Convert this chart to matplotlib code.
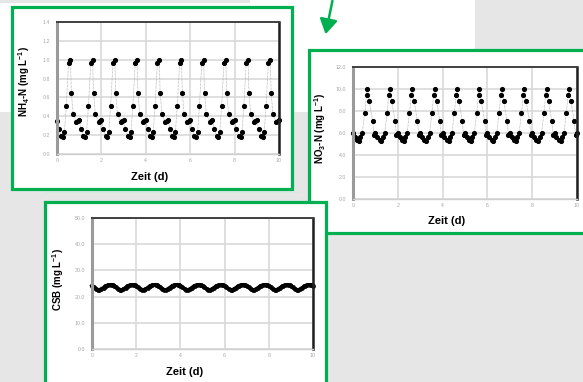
import matplotlib.pyplot as plt
from matplotlib.patches import Rectangle, FancyArrowPatch
from matplotlib.lines import Line2D

plt.rcParams["font.family"] = ["Liberation Sans", "DejaVu Sans"]
plt.rcParams["mathtext.default"] = "regular"

W, H = 583, 382

# sampling times within each day (h)
hours = [0, 2, 4.5, 6.5, 8, 10, 12.5, 14.5, 15.5, 17.5, 21, 22.5]
n_days = 10

# NH4-N per day (mg/L)
nh4 = [
    [0.35, 0.27, 0.19, 0.18, 0.23, 0.51, 0.96, 1.00, 0.65, 0.42, 0.34, 0.35],
    [0.36, 0.27, 0.19, 0.18, 0.23, 0.51, 0.96, 1.00, 0.65, 0.42, 0.34, 0.35],
    [0.36, 0.27, 0.19, 0.18, 0.23, 0.51, 0.96, 1.00, 0.65, 0.42, 0.34, 0.35],
    [0.36, 0.27, 0.19, 0.18, 0.23, 0.51, 0.96, 1.00, 0.65, 0.42, 0.34, 0.35],
    [0.36, 0.27, 0.19, 0.18, 0.23, 0.51, 0.96, 1.00, 0.65, 0.42, 0.34, 0.35],
    [0.36, 0.27, 0.19, 0.18, 0.23, 0.51, 0.96, 1.00, 0.65, 0.42, 0.34, 0.35],
    [0.36, 0.27, 0.19, 0.18, 0.23, 0.51, 0.96, 1.00, 0.65, 0.42, 0.34, 0.35],
    [0.36, 0.27, 0.19, 0.18, 0.23, 0.51, 0.96, 1.00, 0.65, 0.42, 0.34, 0.35],
    [0.36, 0.27, 0.19, 0.18, 0.23, 0.51, 0.96, 1.00, 0.65, 0.42, 0.34, 0.35],
    [0.36, 0.27, 0.19, 0.18, 0.23, 0.51, 0.96, 1.00, 0.65, 0.42, 0.34, 0.35],
]
nh4_end = 0.36

# NO3-N per day (mg/L)
no3 = [
    [6.0, 5.6, 5.4, 5.3, 5.6, 6.0, 7.8, 9.5, 10.0, 8.9, 7.1, 5.8],
    [6.0, 5.6, 5.4, 5.3, 5.6, 6.0, 7.8, 9.5, 10.0, 8.9, 7.1, 5.8],
    [6.0, 5.6, 5.4, 5.3, 5.6, 6.0, 7.8, 9.5, 10.0, 8.9, 7.1, 5.8],
    [6.0, 5.6, 5.4, 5.3, 5.6, 6.0, 7.8, 9.5, 10.0, 8.9, 7.1, 5.8],
    [6.0, 5.6, 5.4, 5.3, 5.6, 6.0, 7.8, 9.5, 10.0, 8.9, 7.1, 5.8],
    [6.0, 5.6, 5.4, 5.3, 5.6, 6.0, 7.8, 9.5, 10.0, 8.9, 7.1, 5.8],
    [6.0, 5.6, 5.4, 5.3, 5.6, 6.0, 7.8, 9.5, 10.0, 8.9, 7.1, 5.8],
    [6.0, 5.6, 5.4, 5.3, 5.6, 6.0, 7.8, 9.5, 10.0, 8.9, 7.1, 5.8],
    [6.0, 5.6, 5.4, 5.3, 5.6, 6.0, 7.8, 9.5, 10.0, 8.9, 7.1, 5.8],
    [6.0, 5.6, 5.4, 5.3, 5.6, 6.0, 7.8, 9.5, 10.0, 8.9, 7.1, 5.8],
]
no3_end = 6.0

# CSB per day (mg/L)
csb = [
    [24.2, 23.6, 22.9, 22.6, 22.5, 22.8, 23.4, 23.9, 24.1, 24.4, 24.5, 24.4],
    [24.2, 23.6, 22.9, 22.6, 22.5, 22.8, 23.4, 23.9, 24.1, 24.4, 24.5, 24.4],
    [24.2, 23.6, 22.9, 22.6, 22.5, 22.8, 23.4, 23.9, 24.1, 24.4, 24.5, 24.4],
    [24.2, 23.6, 22.9, 22.6, 22.5, 22.8, 23.4, 23.9, 24.1, 24.4, 24.5, 24.4],
    [24.2, 23.6, 22.9, 22.6, 22.5, 22.8, 23.4, 23.9, 24.1, 24.4, 24.5, 24.4],
    [24.2, 23.6, 22.9, 22.6, 22.5, 22.8, 23.4, 23.9, 24.1, 24.4, 24.5, 24.4],
    [24.2, 23.6, 22.9, 22.6, 22.5, 22.8, 23.4, 23.9, 24.1, 24.4, 24.5, 24.4],
    [24.2, 23.6, 22.9, 22.6, 22.5, 22.8, 23.4, 23.9, 24.1, 24.4, 24.5, 24.4],
    [24.2, 23.6, 22.9, 22.6, 22.5, 22.8, 23.4, 23.9, 24.1, 24.4, 24.5, 24.4],
    [24.2, 23.6, 22.9, 22.6, 22.5, 22.8, 23.4, 23.9, 24.1, 24.4, 24.5, 24.4],
]
csb_end = 24.2

x_ticks = [0, 2, 4, 6, 8, 10]

GREEN = "#00b050"
BG = "#e6e6e6"

times = [d + h / 24 for d in range(n_days) for h in hours] + [n_days]


def flat(rows, end):
    return [v for row in rows for v in row] + [end]


def frac_box(x0, y0, x1, y1):
    # pixel box (top-left origin) -> figure fraction rect
    return [x0 / W, 1 - y1 / H, (x1 - x0) / W, (y1 - y0) / H]


fig = plt.figure(figsize=(W / 100, H / 100), dpi=100)
fig.patch.set_facecolor(BG)

# white slide area at the top
fig.add_artist(Rectangle((0, 1 - 112 / H), 475 / W, 112 / H, transform=fig.transFigure,
                         facecolor="white", edgecolor="none", zorder=0))
fig.add_artist(Rectangle((0, 1 - 3 / H), 250 / W, 3 / H, transform=fig.transFigure,
                         facecolor=BG, edgecolor="none", zorder=0))
fig.add_artist(Line2D([45 / W, 300 / W], [1 - 192 / H, 1 - 192 / H], transform=fig.transFigure,
                      color="#d5ebdf", lw=0.8, zorder=0))

# arrow pointing at the nitrate panel
fig.add_artist(FancyArrowPatch((333 / W, 1 + 2 / H), (325 / W, 1 - 37 / H),
                               transform=fig.transFigure, arrowstyle="-|>,head_length=0.5,head_width=0.3",
                               mutation_scale=18, color=GREEN, lw=1.8, zorder=1))


def panel(frame, axbox, ylim, ystep, ylabel, xlab_pos, ylab_pos, z):
    x0, y0, x1, y1 = frame
    fig.add_artist(Rectangle((x0 / W, 1 - y1 / H), (x1 - x0) / W, (y1 - y0) / H,
                             transform=fig.transFigure, facecolor="white",
                             edgecolor=GREEN, lw=2.3, zorder=z))
    ax = fig.add_axes(frac_box(*axbox), zorder=z + 1)
    ax.set_xlim(0, 10)
    ax.set_ylim(0, ylim)
    ax.set_xticks(x_ticks)
    yt = [i * ystep for i in range(int(round(ylim / ystep)) + 1)]
    ax.set_yticks(yt)
    ax.set_yticklabels(["{:.1f}".format(v) for v in yt])
    ax.tick_params(length=0, labelsize=3.8, labelcolor="#a6a6a6", pad=5)
    ax.tick_params(axis="x", pad=3)
    ax.grid(True, color="#d9d9d9", lw=1.2)
    ax.set_axisbelow(True)
    ax.spines["left"].set_color("#9a9a9a")
    ax.spines["left"].set_linewidth(2.2)
    ax.spines["top"].set_color("#404040")
    ax.spines["top"].set_linewidth(1.4)
    ax.spines["right"].set_color("#202020")
    ax.spines["right"].set_linewidth(1.8)
    ax.spines["bottom"].set_color("#cfcfcf")
    ax.spines["bottom"].set_linewidth(1.0)
    fig.text(xlab_pos[0] / W, 1 - xlab_pos[1] / H, "Zeit (d)", ha="center", va="center",
             fontsize=8, fontweight="bold", zorder=z + 2)
    fig.text(ylab_pos[0] / W, 1 - ylab_pos[1] / H, ylabel, ha="center", va="center",
             rotation=90, fontsize=7, fontweight="bold", zorder=z + 2)
    return ax


ax1 = panel((12, 7, 292, 189), (57, 22, 279, 154), 1.4, 0.2,
            "NH$_4$-N (mg L$^{-1}$)", (150, 177), (24, 82), 2)
ax1.plot(times, flat(nh4, nh4_end), color="#a0a0a0", lw=0.5, ls=(0, (1, 1)),
         marker="o", ms=2.7, mfc="black", mec="black", clip_on=False)

ax2 = panel((309, 50, 600, 233), (353, 67, 577, 199), 12, 2,
            "NO$_3$-N (mg L$^{-1}$)", (447, 221), (320, 128), 5)
ax2.plot(times, flat(no3, no3_end), color="#a0a0a0", lw=0.5, ls=(0, (1, 1)),
         marker="o", ms=2.7, mfc="black", mec="black", clip_on=False)

ax3 = panel((45, 202, 326, 400), (92, 218, 313, 349), 50, 10,
            "CSB (mg L$^{-1}$)", (185, 372), (58, 280), 8)
ax3.plot(times, flat(csb, csb_end), color="black", lw=2.7,
         marker="o", ms=2.4, mfc="black", mec="black", clip_on=False)

fig.savefig("out.png", dpi=100, facecolor=fig.get_facecolor())
